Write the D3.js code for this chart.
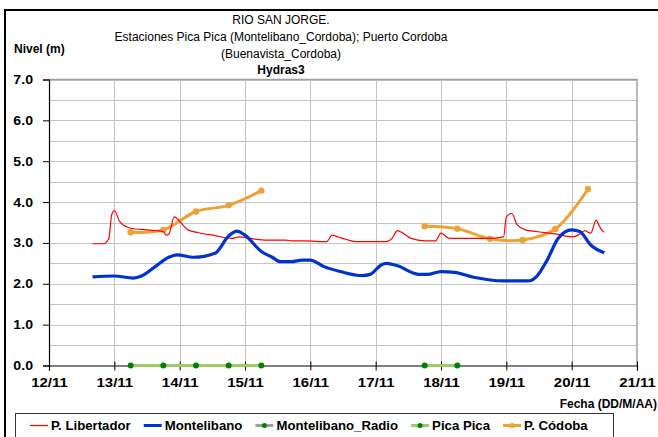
<!DOCTYPE html>
<html>
<head>
<meta charset="utf-8">
<script src="https://cdn.jsdelivr.net/npm/d3@7"></script>
<style>
  body { margin: 0; background: #fff; }
  svg { display: block; font-family: "Liberation Sans", Arial, sans-serif; }
</style>
</head>
<body>
<svg id="chart" width="658" height="437"></svg>
<script>
// ---- Data (dd/mm hh:mm, level in metres) ----
const libTimes = ["12/11 16:00","12/11 20:00","12/11 22:00","12/11 23:00","13/11 00:00","13/11 02:00","13/11 06:00","13/11 12:00","13/11 18:00","13/11 19:00","13/11 20:00","13/11 22:00","13/11 23:00","14/11 03:00","14/11 07:00","14/11 13:00","14/11 19:00","14/11 22:00","15/11 03:00","15/11 08:00","15/11 13:00","15/11 15:00","15/11 17:00","15/11 22:00","16/11 06:00","16/11 08:00","16/11 10:00","16/11 13:00","16/11 17:00","17/11 04:00","17/11 06:00","17/11 08:00","17/11 10:00","17/11 13:00","17/11 18:00","17/11 22:00","18/11 00:00","18/11 03:00","18/11 17:00","18/11 23:00","19/11 00:00","19/11 02:00","19/11 04:00","19/11 07:00","19/11 11:00","19/11 18:00","20/11 00:00","20/11 02:00","20/11 05:00","20/11 06:00","20/11 07:00","20/11 09:00","20/11 10:00","20/11 11:00","20/11 12:00"];
const libValues = [2.98,2.98,3.11,3.68,3.79,3.52,3.36,3.32,3.28,3.19,3.21,3.64,3.60,3.32,3.25,3.18,3.11,3.15,3.10,3.07,3.07,3.07,3.05,3.05,3.03,3.19,3.15,3.09,3.03,3.03,3.11,3.30,3.24,3.11,3.05,3.05,3.24,3.11,3.11,3.15,3.64,3.72,3.44,3.32,3.28,3.22,3.15,3.18,3.30,3.26,3.24,3.56,3.44,3.32,3.26];

const monTimes = ["12/11 16:00","13/11 00:00","13/11 07:00","13/11 10:00","13/11 15:00","13/11 20:00","13/11 23:00","14/11 05:00","14/11 13:00","14/11 18:00","14/11 21:00","15/11 00:00","15/11 06:00","15/11 10:00","15/11 13:00","15/11 17:00","15/11 21:00","16/11 00:00","16/11 05:00","16/11 11:00","16/11 19:00","16/11 22:00","17/11 02:00","17/11 04:00","17/11 08:00","17/11 16:00","17/11 19:00","18/11 00:00","18/11 05:00","18/11 12:00","18/11 23:00","19/11 08:00","19/11 11:00","19/11 15:00","19/11 19:00","20/11 00:00","20/11 03:00","20/11 07:00","20/11 12:00"];
const monValues = [2.17,2.19,2.14,2.19,2.42,2.65,2.71,2.65,2.75,3.17,3.29,3.19,2.79,2.65,2.54,2.54,2.58,2.58,2.42,2.30,2.20,2.23,2.46,2.50,2.44,2.23,2.23,2.30,2.28,2.16,2.07,2.07,2.17,2.58,3.11,3.32,3.28,2.95,2.76];

// Twice-daily readings; null marks days without data
const obsTimes = ["13/11 06:00","13/11 18:00","14/11 06:00","14/11 18:00","15/11 06:00","16/11 06:00","17/11 06:00","17/11 18:00","18/11 06:00","18/11 18:00","19/11 06:00","19/11 18:00","20/11 06:00"];
const picaValues = [0,0,0,0,0,null,null,0,0,null,null,null,null];
const cordobaValues = [3.26,3.32,3.77,3.92,4.28,null,null,3.41,3.35,3.10,3.07,3.34,4.32];

const dayTicks = ["12/11","13/11","14/11","15/11","16/11","17/11","18/11","19/11","20/11","21/11"];
const levelTicks = [0,1,2,3,4,5,6,7];

const titleLines = ["RIO SAN JORGE.","Estaciones Pica Pica (Montelibano_Cordoba); Puerto Cordoba","(Buenavista_Cordoba)"];
const subTitle = "Hydras3";

const legendNames = ["P. Libertador","Montelibano","Montelibano_Radio","Pica Pica","P. Códoba"];

// ---- Setup ----
const parseT = d3.timeParse("%d/%m %H:%M");
const parseD = d3.timeParse("%d/%m");
const svg = d3.select("#chart");
const W = 658, H = 437;
const plot = { left: 49, right: 637, top: 79.5, bottom: 365.5 };
const FONT = "'Liberation Sans', Arial, sans-serif";

svg.append("rect").attr("width", W).attr("height", H).attr("fill", "#fff");
// outer frame
svg.append("rect").attr("x", 5).attr("y", 10).attr("width", 700).attr("height", 500)
  .attr("fill", "none").attr("stroke", "#000").attr("stroke-width", 2);

const x = d3.scaleTime()
  .domain([parseD(dayTicks[0]), parseD(dayTicks[dayTicks.length - 1])])
  .range([plot.left, plot.right]);
const y = d3.scaleLinear().domain([0, 7]).range([plot.bottom, plot.top]);

// ---- Gridlines ----
const grid = svg.append("g");
grid.selectAll("line.h").data(d3.range(0.5, 7.01, 0.5)).join("line")
  .attr("x1", plot.left).attr("x2", plot.right)
  .attr("y1", d => Math.round(y(d)) + 0.5).attr("y2", d => Math.round(y(d)) + 0.5)
  .attr("stroke", "#c4c4c4").attr("stroke-width", 1);
grid.selectAll("line.v").data(dayTicks.slice(1, -1).map(parseD)).join("line")
  .attr("x1", d => Math.round(x(d)) + 0.5).attr("x2", d => Math.round(x(d)) + 0.5)
  .attr("y1", plot.top).attr("y2", plot.bottom)
  .attr("stroke", "#c4c4c4").attr("stroke-width", 1);
// plot border (top / right)
svg.append("path")
  .attr("d", `M${plot.left},${plot.top}H${plot.right}V${plot.bottom}`)
  .attr("fill", "none").attr("stroke", "#a0a0a0").attr("stroke-width", 1.5);

// ---- Axes ----
const yAxis = svg.append("g").attr("transform", `translate(${plot.left},0)`)
  .call(d3.axisLeft(y).tickValues(levelTicks).tickFormat(d3.format(".1f")).tickSize(6).tickPadding(0));
const xAxis = svg.append("g").attr("transform", `translate(0,${plot.bottom})`)
  .call(d3.axisBottom(x).tickValues(dayTicks.map(parseD)).tickFormat(d3.timeFormat("%d/%m")).tickSize(5).tickPadding(8));
[yAxis, xAxis].forEach(a => {
  a.select(".domain").attr("stroke", "#000").attr("stroke-width", 1.2);
  a.selectAll(".tick line").attr("stroke", "#000");
  a.selectAll(".tick text").attr("fill", "#000").attr("font-size", 12.5)
    .attr("font-weight", "bold").attr("font-family", FONT);
});
// labels are drawn slightly wide
yAxis.selectAll(".tick text").attr("x", null).attr("transform", "translate(-16,0) scale(1.13,1)");
xAxis.selectAll(".tick text").attr("transform", "scale(1.2,1)");
// day ticks also cross slightly into the plot
xAxis.selectAll(".tick line").attr("y1", -4);

// ---- Series ----
const libData = libTimes.map((t, i) => ({ t: parseT(t), v: libValues[i] }));
const monData = monTimes.map((t, i) => ({ t: parseT(t), v: monValues[i] }));
const picaData = obsTimes.map((t, i) => ({ t: parseT(t), v: picaValues[i] }));
const cordData = obsTimes.map((t, i) => ({ t: parseT(t), v: cordobaValues[i] }));

const lineGen = curve => d3.line().defined(d => d.v != null)
  .x(d => x(d.t)).y(d => y(d.v)).curve(curve);

svg.append("path").datum(cordData)
  .attr("d", lineGen(d3.curveCatmullRom.alpha(0.5)))
  .attr("fill", "none").attr("stroke", "#EEA235").attr("stroke-width", 3);
svg.append("g").selectAll("circle").data(cordData.filter(d => d.v != null)).join("circle")
  .attr("cx", d => x(d.t)).attr("cy", d => y(d.v)).attr("r", 3.2).attr("fill", "#EEA235");

svg.append("path").datum(libData)
  .attr("d", lineGen(d3.curveMonotoneX))
  .attr("fill", "none").attr("stroke", "#ff0000").attr("stroke-width", 1.2);

svg.append("path").datum(monData)
  .attr("d", lineGen(d3.curveMonotoneX))
  .attr("fill", "none").attr("stroke", "#0033cc").attr("stroke-width", 3.2)
  .attr("stroke-linejoin", "round");

svg.append("path").datum(picaData)
  .attr("d", lineGen(d3.curveLinear))
  .attr("fill", "none").attr("stroke", "#99cc66").attr("stroke-width", 3);
svg.append("g").selectAll("circle").data(picaData.filter(d => d.v != null)).join("circle")
  .attr("cx", d => x(d.t)).attr("cy", d => y(d.v)).attr("r", 3).attr("fill", "#008000");

// ---- Titles ----
const title = svg.append("g").attr("text-anchor", "middle").attr("font-size", 12).attr("fill", "#000");
title.selectAll("text").data(titleLines).join("text")
  .attr("x", 281).attr("y", (d, i) => 24 + i * 17).text(d => d);
title.append("text").attr("x", 281).attr("y", 74).attr("font-weight", "bold").text(subTitle);

svg.append("text").attr("x", 14).attr("y", 53).attr("font-size", 12).attr("font-weight", "bold").text("Nivel (m)");
svg.append("text").attr("x", 657).attr("y", 408).attr("text-anchor", "end")
  .attr("font-size", 12).attr("font-weight", "bold").text("Fecha (DD/M/AA)");

// ---- Legend ----
const legendStyles = [
  { color: "#ff0000", width: 1.2, marker: null },
  { color: "#0033cc", width: 3, marker: null },
  { color: "#a0a0a0", width: 3, marker: "#008000" },
  { color: "#99cc66", width: 3, marker: "#008000" },
  { color: "#EEA235", width: 3, marker: "#EEA235" }
];
svg.append("rect").attr("x", 15.5).attr("y", 413.5).attr("width", 598).attr("height", 30)
  .attr("fill", "#fff").attr("stroke", "#333").attr("stroke-width", 1);
const legendStretch = 1.1;
let lx = 30;
legendNames.forEach((name, i) => {
  const s = legendStyles[i];
  const g = svg.append("g");
  g.append("line").attr("x1", lx).attr("x2", lx + 18).attr("y1", 425.5).attr("y2", 425.5)
    .attr("stroke", s.color).attr("stroke-width", s.width);
  if (s.marker) g.append("circle").attr("cx", lx + 9).attr("cy", 425.5).attr("r", 2.5).attr("fill", s.marker);
  const t = g.append("text").attr("transform", `translate(${lx + 21},430) scale(${legendStretch},1)`)
    .attr("font-size", 12).attr("font-weight", "bold").text(name);
  lx += 21 + t.node().getComputedTextLength() * legendStretch + 13;
});
</script>
</body>
</html>
